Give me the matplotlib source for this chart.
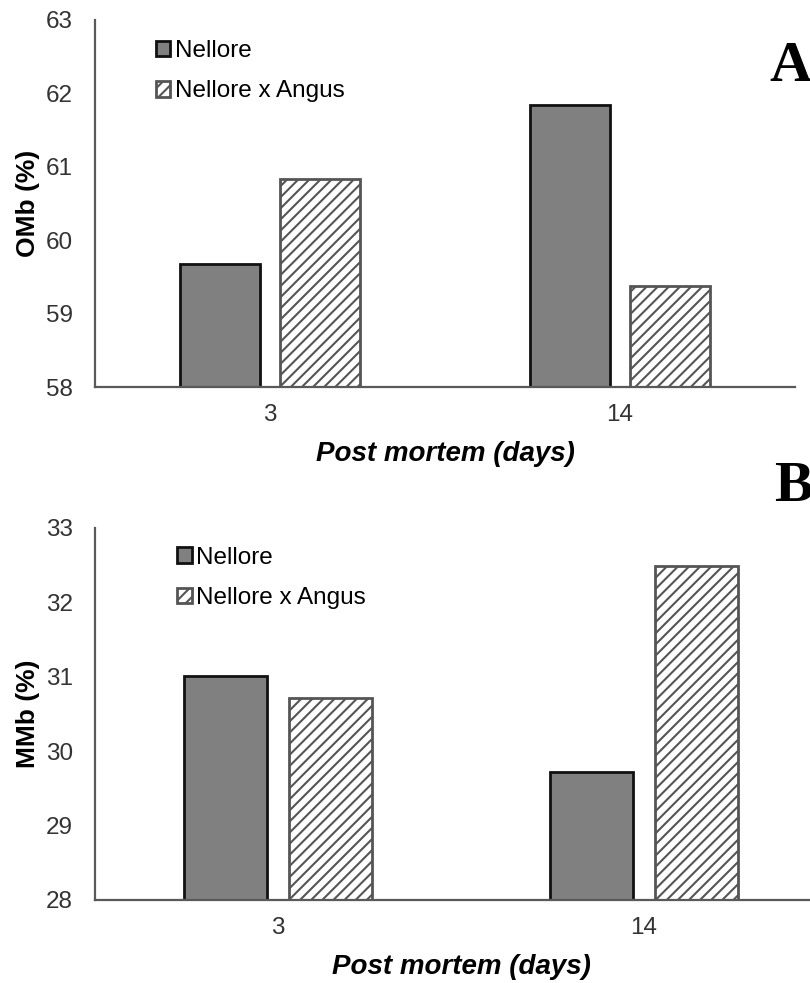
import numpy as np
import matplotlib
matplotlib.use("Agg")
import matplotlib.pyplot as plt

# Data
days = ["3", "14"]
omb_nellore = [59.68, 61.84]
omb_cross = [60.83, 59.37]
mmb_nellore = [31.01, 29.72]
mmb_cross = [30.72, 32.49]
series_names = ["Nellore", "Nellore x Angus"]

W, H = 810, 983
plt.rcParams['font.family'] = ['Liberation Sans', 'DejaVu Sans']
plt.rcParams['hatch.linewidth'] = 1.5

fig = plt.figure(figsize=(W / 100, H / 100), dpi=100)


def px_axes(left, top, right, bottom):
    return fig.add_axes([left / W, 1 - bottom / H, (right - left) / W, (bottom - top) / H])


def draw_panel(ax, nellore, cross, ylim, ylabel, leg_anchor):
    x = np.arange(len(days))
    off, width = 0.143, 0.228
    ax.bar(x - off, nellore, width, color="#808080",
           edgecolor="#111111", linewidth=2, label=series_names[0], zorder=2)
    ax.bar(x + off, cross, width, color="white", edgecolor="#555555",
           hatch="///", linewidth=2, label=series_names[1], zorder=2)
    ax.set_ylim(*ylim)
    ax.set_xlim(-0.5, len(days) - 0.5)
    ax.set_xticks(x)
    ax.set_xticklabels(days)
    ax.set_yticks(np.arange(ylim[0], ylim[1] + 1))
    for s in ["top", "right"]:
        ax.spines[s].set_visible(False)
    for s in ["left", "bottom"]:
        ax.spines[s].set_color("#595959")
        ax.spines[s].set_linewidth(1.6)
    ax.tick_params(axis="y", length=0, pad=16, labelsize=17.5, labelcolor="#333333")
    ax.tick_params(axis="x", length=0, pad=12, labelsize=17.5, labelcolor="#333333")
    ax.set_ylabel(ylabel, fontsize=19, fontweight="bold", labelpad=4)
    ax.set_xlabel("Post mortem (days)", fontsize=20, fontweight="bold",
                  fontstyle="italic", labelpad=11)
    ax.legend(loc="upper left", bbox_to_anchor=leg_anchor, frameon=False,
              fontsize=17.5, handlelength=0.6, handleheight=0.6,
              handletextpad=0.2, labelspacing=0.75, borderpad=0, borderaxespad=0)


axA = px_axes(95, 20, 795, 387)
draw_panel(axA, omb_nellore, omb_cross, (58, 63), "OMb (%)", (0.087, 0.945))

axB = px_axes(95, 528, 827, 900)
draw_panel(axB, mmb_nellore, mmb_cross, (28, 33), "MMb (%)", (0.112, 0.95))

fig.text(769 / W, 1 - 81 / H, "A", fontsize=42, fontweight="bold",
         family=["Liberation Serif", "DejaVu Serif"], ha="left", va="baseline")
fig.text(774 / W, 1 - 501 / H, "B", fontsize=42, fontweight="bold",
         family=["Liberation Serif", "DejaVu Serif"], ha="left", va="baseline")

fig.savefig("out.png", dpi=100)
